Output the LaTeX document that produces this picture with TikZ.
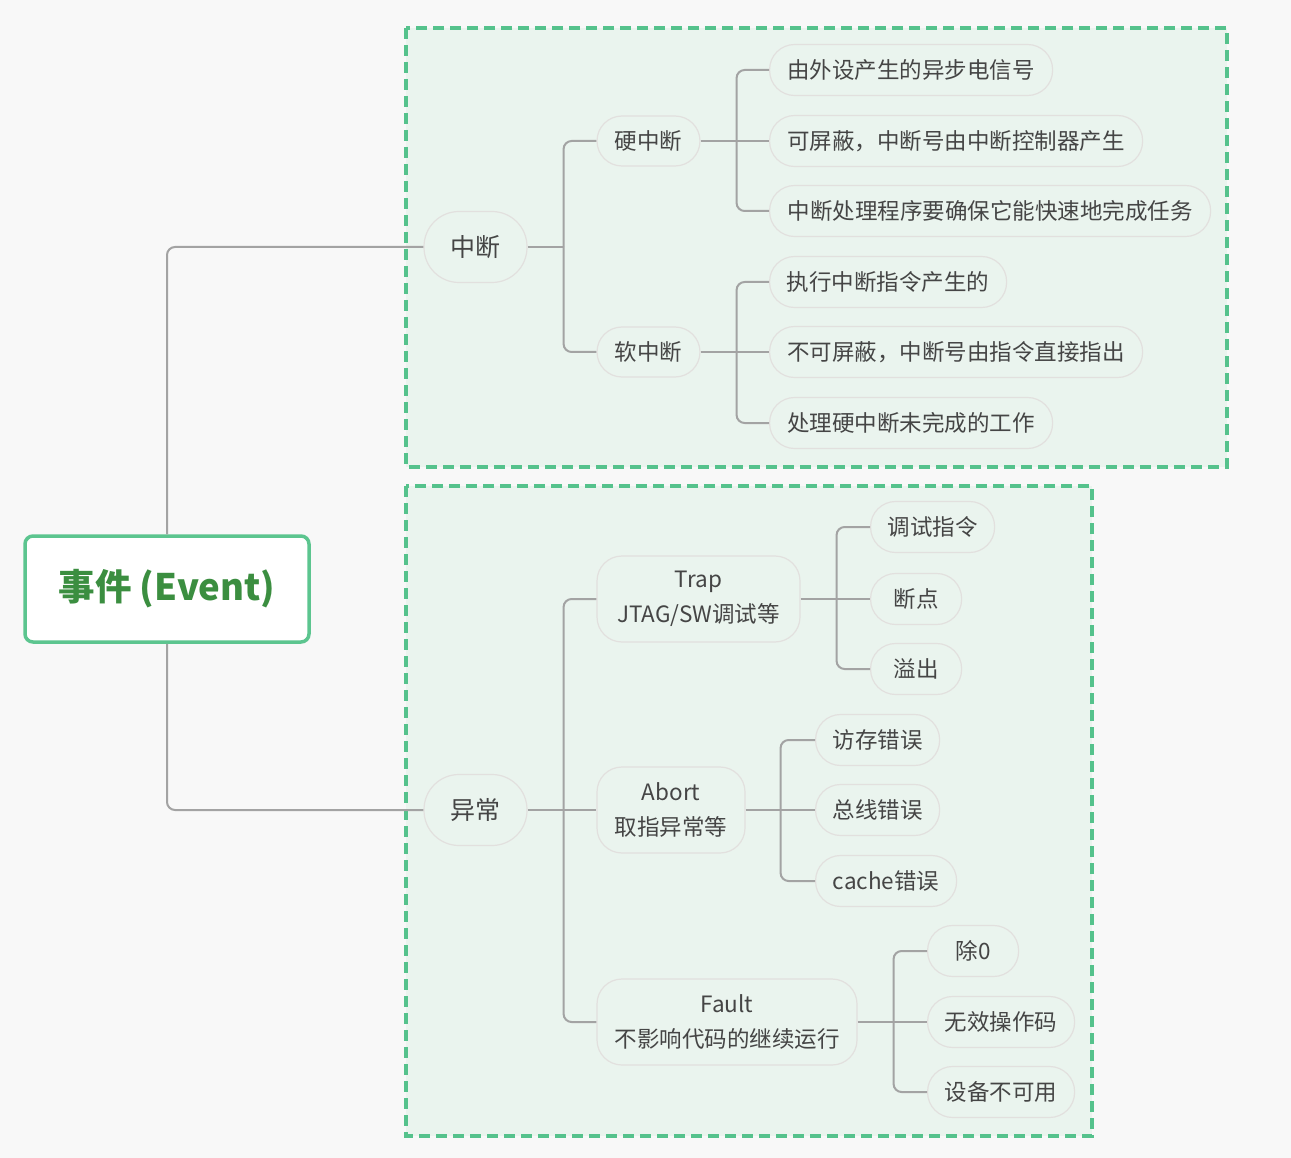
\documentclass[tikz,border=0pt]{standalone}
\usepackage{fontspec}
\setmainfont{Noto Sans CJK SC}
\definecolor{bgc}{HTML}{F8F8F8}
\definecolor{regfill}{HTML}{EAF4EE}
\definecolor{regdraw}{HTML}{55C28C}
\definecolor{nodedraw}{HTML}{E2E0DE}
\definecolor{txt}{HTML}{454545}
\definecolor{conncol}{HTML}{A3A3A3}
\definecolor{rootdraw}{HTML}{5CC58F}
\definecolor{roottxt}{HTML}{3B8E40}
\tikzset{
  region/.style={draw=regdraw, fill=regfill, line width=3.2pt, dash pattern=on 11pt off 6pt},
  pill/.style={draw=nodedraw, fill=regfill, line width=1.2pt, rounded corners=25pt,
    text=txt, inner xsep=0pt, inner ysep=0pt, font=\fontsize{22.5}{35}\selectfont, align=center},
  leaf/.style={pill, anchor=west, minimum height=51pt},
  conn/.style={draw=conncol, line width=2pt, rounded corners=8pt},
  straight/.style={draw=conncol, line width=2pt},
}
\begin{document}
\begin{tikzpicture}[x=1pt,y=-1pt]
\fill[bgc] (0,0) rectangle (1291,1158);
\useasboundingbox (0,0) rectangle (1291,1158);
% regions
\draw[region] (406,28) rectangle (1227,467);
\draw[region] (406,486) rectangle (1092,1136);
% root
\node[draw=rootdraw, fill=white, line width=3.5pt, rounded corners=8pt, minimum width=284pt,
  minimum height=106pt, text=roottxt, font=\fontsize{36.5}{40}\selectfont\bfseries] (root) at (167,589) {事件 (Event)};
% level 1
\node[pill, minimum width=103pt, minimum height=71pt, rounded corners=35pt, font=\fontsize{25}{30}\selectfont] (zd) at (475.5,247) {中断};
\node[pill, minimum width=103pt, minimum height=71pt, rounded corners=35pt, font=\fontsize{25}{30}\selectfont] (yc) at (475.5,810) {异常};
% level 2 (interrupt)
\node[pill, minimum width=103pt, minimum height=50pt] (yzd) at (648.5,141) {硬中断};
\node[pill, minimum width=103pt, minimum height=50pt] (rzd) at (648.5,352) {软中断};
% level 2 (exception)
\node[pill, minimum width=203pt, minimum height=86pt] (trap) at (698.5,599) {Trap\\JTAG/SW调试等};
\node[pill, minimum width=148pt, minimum height=86pt] (abort) at (671,810) {Abort\\取指异常等};
\node[pill, minimum width=260pt, minimum height=86pt] (fault) at (727,1022) {Fault\\不影响代码的继续运行};
% leaves hard
\node[leaf, minimum width=283pt] (h1) at (769,70) {由外设产生的异步电信号};
\node[leaf, minimum width=373pt] (h2) at (769,141) {可屏蔽，中断号由中断控制器产生};
\node[leaf, minimum width=441pt] (h3) at (769,211) {中断处理程序要确保它能快速地完成任务};
% leaves soft
\node[leaf, minimum width=237pt] (s1) at (769,282) {执行中断指令产生的};
\node[leaf, minimum width=373pt] (s2) at (769,352) {不可屏蔽，中断号由指令直接指出};
\node[leaf, minimum width=283pt] (s3) at (769,423) {处理硬中断未完成的工作};
% leaves trap
\node[leaf, minimum width=124pt] (t1) at (870,527) {调试指令};
\node[leaf, minimum width=91pt] (t2) at (870,599) {断点};
\node[leaf, minimum width=91pt] (t3) at (870,669) {溢出};
% leaves abort
\node[leaf, minimum width=124pt] (a1) at (815,740) {访存错误};
\node[leaf, minimum width=124pt] (a2) at (815,810) {总线错误};
\node[leaf, minimum width=141pt] (a3) at (815,881) {cache错误};
% leaves fault
\node[leaf, minimum width=91pt] (f1) at (927,951) {除0};
\node[leaf, minimum width=147pt] (f2) at (927,1022) {无效操作码};
\node[leaf, minimum width=147pt] (f3) at (927,1092) {设备不可用};
% connectors
\draw[conn] (root.north) |- (zd.west);
\draw[conn] (root.south) |- (yc.west);
% interrupt trunk
\draw[straight] (zd.east) -- ++(36,0) coordinate (jzd);
\foreach \c in {yzd,rzd} \draw[conn] (jzd) |- (\c.west);
% exception trunk
\draw[straight] (yc.east) -- (abort.west);
\path (yc.east) -- ++(36,0) coordinate (jyc);
\foreach \c in {trap,fault} \draw[conn] (jyc) |- (\c.west);
% hard
\draw[straight] (yzd.east) -- (h2.west);
\path (yzd.east) -- ++(36,0) coordinate (jh);
\foreach \c in {h1,h3} \draw[conn] (jh) |- (\c.west);
% soft
\draw[straight] (rzd.east) -- (s2.west);
\path (rzd.east) -- ++(36,0) coordinate (js);
\foreach \c in {s1,s3} \draw[conn] (js) |- (\c.west);
% trap
\draw[straight] (trap.east) -- (t2.west);
\path (trap.east) -- ++(36,0) coordinate (jt);
\foreach \c in {t1,t3} \draw[conn] (jt) |- (\c.west);
% abort
\draw[straight] (abort.east) -- (a2.west);
\path (abort.east) -- ++(35,0) coordinate (ja);
\foreach \c in {a1,a3} \draw[conn] (ja) |- (\c.west);
% fault
\draw[straight] (fault.east) -- (f2.west);
\path (fault.east) -- ++(36,0) coordinate (jf);
\foreach \c in {f1,f3} \draw[conn] (jf) |- (\c.west);
\end{tikzpicture}
\end{document}
